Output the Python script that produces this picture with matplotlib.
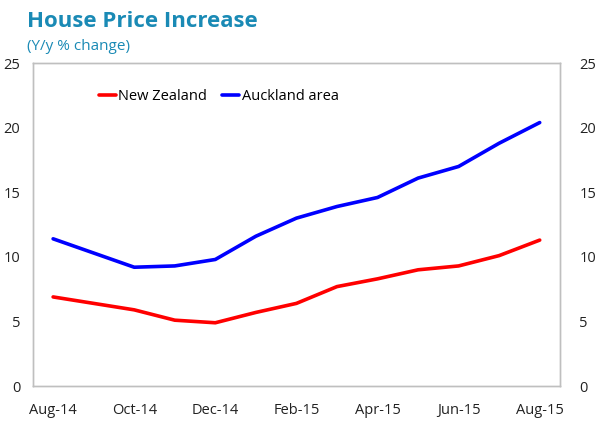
import matplotlib.pyplot as plt

plt.rcParams['font.family'] = ['Open Sans', 'DejaVu Sans']

# monthly, Aug-14 .. Aug-15
months = ["Aug-14", "Sep-14", "Oct-14", "Nov-14", "Dec-14", "Jan-15", "Feb-15",
          "Mar-15", "Apr-15", "May-15", "Jun-15", "Jul-15", "Aug-15"]
new_zealand = [6.9, 6.4, 5.9, 5.1, 4.9, 5.7, 6.4, 7.7, 8.3, 9.0, 9.3, 10.1, 11.3]
auckland = [11.4, 10.3, 9.2, 9.3, 9.8, 11.6, 13.0, 13.9, 14.6, 16.1, 17.0, 18.8, 20.4]
y_ticks = [0, 5, 10, 15, 20, 25]

title_col = "#1a8ab5"

fig = plt.figure(figsize=(5.97, 4.21), dpi=100)
ax = fig.add_axes([0.055, 0.083, 0.883, 0.767])

x = list(range(len(months)))
ax.plot(x, new_zealand, color="#ff0000", lw=2.6, label="New Zealand", solid_capstyle="round")
ax.plot(x, auckland, color="#0000ff", lw=2.6, label="Auckland area", solid_capstyle="round")

ax.set_xlim(-0.5, len(months) - 0.5)
ax.set_ylim(0, 25)
ax.set_yticks(y_ticks)
ax.set_xticks(x[::2])
ax.set_xticklabels(months[::2])
ax.tick_params(axis="both", length=0, labelsize=10.5, colors="#222222")
ax.tick_params(axis="y", pad=9)
ax.tick_params(axis="x", pad=12)

ax2 = ax.twinx()
ax2.set_ylim(0, 25)
ax2.set_yticks(y_ticks)
ax2.tick_params(axis="y", length=0, labelsize=10.5, colors="#222222", pad=14)

for a in (ax, ax2):
    for s in a.spines.values():
        s.set_color("#bfbfbf")
        s.set_linewidth(1)

leg = ax.legend(loc="upper left", bbox_to_anchor=(0.1, 0.96), ncol=2, frameon=False,
                fontsize=10.5, handlelength=1.2, handletextpad=0.15, columnspacing=1.0)

fig.text(0.045, 0.935, "House Price Increase", fontsize=16, fontweight="bold", color=title_col)
fig.text(0.045, 0.882, "(Y/y % change)", fontsize=11, color=title_col)

fig.savefig("out.png", dpi=100)
